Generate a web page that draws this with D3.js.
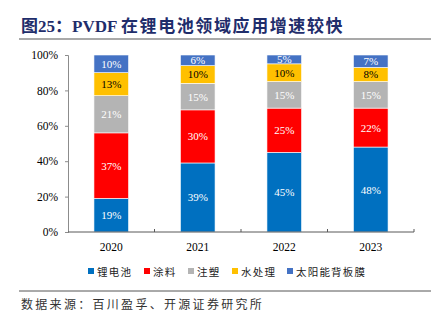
<!DOCTYPE html>
<html>
<head>
<meta charset="utf-8">
<script src="https://cdn.jsdelivr.net/npm/d3@7"></script>
<style>
  body { margin: 0; background: #fff; }
  svg { display: block; }
</style>
</head>
<body>
<svg width="439" height="324"></svg>
<script>
// shares of PVDF demand by application, per year
const years = ['2020', '2021', '2022', '2023'];
const seriesNames = ['锂电池', '涂料', '注塑', '水处理', '太阳能背板膜'];
const lithium = [19, 39, 45, 48];
const coating = [37, 30, 25, 22];
const molding = [21, 15, 15, 15];
const water = [13, 10, 10, 8];
const solar = [10, 6, 5, 7];
const yTicks = [0, 20, 40, 60, 80, 100];

const colors = ['#0070C0', '#FF0000', '#B4B4B4', '#FFC000', '#4472C4'];
const labelColors = ['#fff', '#fff', '#fff', '#000', '#fff'];

const rows = years.map((yr, i) => ({
  year: yr,
  '锂电池': lithium[i], '涂料': coating[i], '注塑': molding[i],
  '水处理': water[i], '太阳能背板膜': solar[i]
}));
const stacked = d3.stack().keys(seriesNames)(rows);

const svg = d3.select('svg');
const serif = '"Liberation Serif", "Times New Roman", serif';
const cjk = '"Noto Sans CJK SC", sans-serif';

// title + rule
const title = svg.append('text')
  .attr('x', 21).attr('y', 32)
  .attr('font-family', serif + ', ' + cjk)
  .attr('font-weight', 'bold')
  .attr('font-size', 17)
  .attr('fill', '#1F2D6B');
title.append('tspan').text('图25：PVDF ');
title.append('tspan').attr('letter-spacing', 1.6).text('在锂电池领域应用增速较快');
svg.append('line').attr('x1', 19).attr('x2', 431).attr('y1', 39).attr('y2', 39)
  .attr('stroke', '#555').attr('stroke-width', 1.2);

const plotL = 68, plotR = 414, plotT = 55, plotB = 232;

const x = d3.scaleBand().domain(years).range([plotL, plotR]).paddingInner(0.6).paddingOuter(0.3);
const y = d3.scaleLinear().domain([0, 100]).range([plotB, plotT]);

// bars
const layer = svg.append('g').selectAll('g')
  .data(stacked).enter().append('g')
  .attr('fill', (d, i) => colors[i]);

layer.selectAll('rect')
  .data(d => d).enter().append('rect')
  .attr('x', d => x(d.data.year))
  .attr('width', x.bandwidth())
  .attr('y', d => y(d[1]))
  .attr('height', d => y(d[0]) - y(d[1]))
  .attr('stroke', '#fff').attr('stroke-width', 0.6);

// value labels
stacked.forEach((s, i) => {
  svg.append('g').selectAll('text')
    .data(s).enter().append('text')
    .attr('x', d => x(d.data.year) + x.bandwidth() / 2)
    .attr('y', d => (y(d[0]) + y(d[1])) / 2 + 4)
    .attr('text-anchor', 'middle')
    .attr('font-family', serif)
    .attr('font-size', 11)
    .attr('fill', labelColors[i])
    .text(d => (d[1] - d[0]) + '%');
});

// y axis
const yAxis = d3.axisLeft(y).tickValues(yTicks).tickFormat(d => d + '%').tickSize(3).tickPadding(7);
const gy = svg.append('g').attr('transform', `translate(${plotL},0)`).call(yAxis);
gy.select('.domain').attr('stroke', '#8c8c8c');
gy.selectAll('.tick line').attr('stroke', '#8c8c8c');
gy.selectAll('text').attr('font-family', serif).attr('font-size', 11.5).attr('fill', '#000');

// x axis with ticks on category boundaries
const gx = svg.append('g').attr('transform', `translate(0,${plotB})`);
gx.append('line').attr('x1', plotL).attr('x2', plotR).attr('y1', 0).attr('y2', 0)
  .attr('stroke', '#595959').attr('stroke-width', 1);
const edges = years.map((yr, i) => plotL + x.step() * (i + 1));
gx.selectAll('.edge').data(edges).enter().append('line')
  .attr('x1', d => d).attr('x2', d => d).attr('y1', 0).attr('y2', -3)
  .attr('stroke', '#595959');
gx.selectAll('.yr').data(years).enter().append('text')
  .attr('x', d => x(d) + x.bandwidth() / 2)
  .attr('y', 19)
  .attr('text-anchor', 'middle')
  .attr('font-family', serif).attr('font-size', 11.5)
  .text(d => d);

// legend
const legendX = [88, 144, 188, 232, 287];
const legend = svg.append('g').selectAll('g')
  .data(seriesNames).enter().append('g')
  .attr('transform', (d, i) => `translate(${legendX[i]},272)`);
legend.append('rect').attr('x', 0).attr('y', -4).attr('width', 6).attr('height', 6)
  .attr('fill', (d, i) => colors[i]);
legend.append('text').attr('x', 9).attr('y', 3.5)
  .attr('font-family', cjk).attr('font-size', 10.5).attr('letter-spacing', 1.2).attr('fill', '#222')
  .text(d => d);

// source
svg.append('line').attr('x1', 19).attr('x2', 431).attr('y1', 291).attr('y2', 291)
  .attr('stroke', '#555').attr('stroke-width', 1);
svg.append('text').attr('x', 21).attr('y', 309)
  .attr('font-family', cjk).attr('font-size', 12).attr('letter-spacing', 2.3).attr('fill', '#333')
  .text('数据来源：百川盈孚、开源证券研究所');
</script>
</body>
</html>
